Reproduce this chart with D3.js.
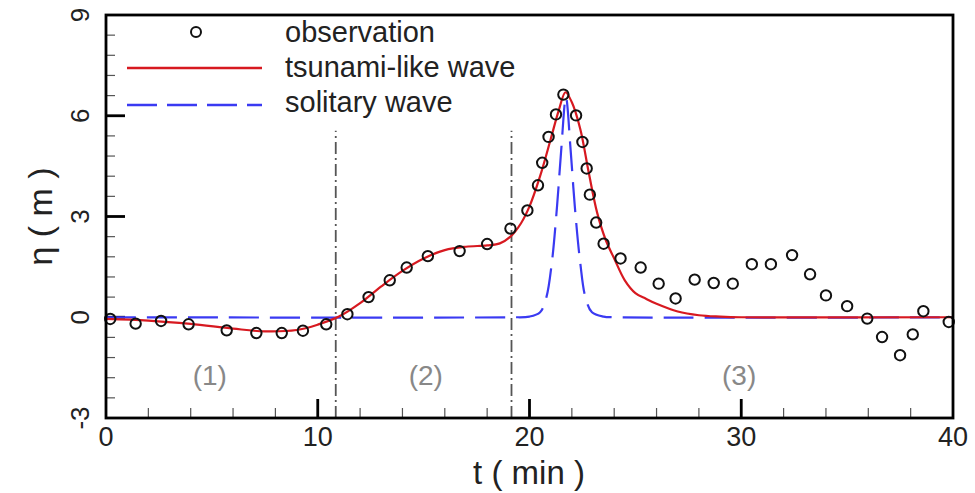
<!DOCTYPE html>
<html>
<head>
<meta charset="utf-8">
<script src="https://cdn.jsdelivr.net/npm/d3@7"></script>
<style>
  body { margin: 0; background: #fff; }
  text { font-family: "Liberation Sans", Arial, sans-serif; }
</style>
</head>
<body>
<div id="chart"></div>
<script>
// observation points (t in min, eta in m)
const obsT = [0.2, 1.4, 2.6, 3.9, 5.7, 7.1, 8.3, 9.3, 10.4, 11.4, 12.4, 13.4, 14.2, 15.2, 16.7, 18.0,
  19.1, 19.9, 20.4, 20.6, 20.9, 21.25, 21.6, 22.2, 22.5, 22.7, 22.85, 23.15, 23.5,
  24.3, 25.25, 26.1, 26.9, 27.8, 28.7, 29.6, 30.5, 31.4, 32.4, 33.25, 34.0, 35.0, 35.95, 36.65, 37.5, 38.1, 38.6, 39.8];
const obsEta = [-0.05, -0.19, -0.11, -0.21, -0.39, -0.47, -0.47, -0.40, -0.21, 0.09, 0.60, 1.10, 1.48, 1.82, 1.97, 2.18,
  2.64, 3.18, 3.93, 4.60, 5.37, 6.04, 6.63, 6.01, 5.22, 4.43, 3.65, 2.82, 2.19,
  1.75, 1.48, 1.00, 0.56, 1.12, 1.02, 1.00, 1.58, 1.58, 1.85, 1.28, 0.65, 0.33, -0.04, -0.59, -1.13, -0.51, 0.18, -0.14];

// tsunami-like wave (red)
const tsuT = [0, 2, 4, 6, 7.5, 9, 10, 11, 12, 13, 14, 15, 16, 17, 18, 18.6, 19.1, 19.6, 20, 20.5, 21, 21.4, 21.7,
  22, 22.4, 22.8, 23.2, 23.6, 24, 24.5, 25, 25.5, 26, 27, 28, 29, 30, 40];
const tsuEta = [-0.05, -0.1, -0.2, -0.34, -0.42, -0.38, -0.22, 0.02, 0.42, 0.92, 1.38, 1.75, 2.0, 2.1, 2.14, 2.2, 2.4, 2.8, 3.3, 4.2, 5.3, 6.2, 6.7,
  6.4, 5.6, 4.3, 3.1, 2.3, 1.75, 1.1, 0.72, 0.55, 0.4, 0.17, 0.06, 0.02, 0, 0];

// solitary wave (blue dashed)
const solT = [0, 19, 20, 20.5, 20.8, 21.05, 21.3, 21.5, 21.72, 21.94, 22.14, 22.4, 22.64, 22.95, 23.5, 24, 40];
const solEta = [0, 0, 0.02, 0.15, 0.6, 1.6, 3.3, 5.0, 6.55, 5.0, 3.3, 1.6, 0.6, 0.15, 0.02, 0, 0];

const xTicks = [0, 10, 20, 30, 40];
const yTicks = [-3, 0, 3, 6, 9];
const dividers = [10.85, 19.15];
const regionLabels = ["(1)", "(2)", "(3)"];
const regionT = [4.9, 15.1, 29.9];
const legendLabels = ["observation", "tsunami-like wave", "solitary wave"];

const width = 975, height = 493;
const margin = { left: 106, right: 22, top: 15, bottom: 75 };

const svg = d3.select("#chart").append("svg")
  .attr("width", width)
  .attr("height", height);

const x = d3.scaleLinear().domain([0, 40]).range([margin.left, width - margin.right]);
const y = d3.scaleLinear().domain([-3, 9]).range([height - margin.bottom, margin.top]);

// minor ticks
const xMinor = d3.range(0, 41, 2).filter(v => v % 10 !== 0);
const yMinor = d3.range(-3, 9.01, 0.6).filter(v => Math.abs(v / 3 - Math.round(v / 3)) > 0.01);

const tickG = svg.append("g").attr("stroke", "#000");
tickG.selectAll(".xmin").data(xMinor).enter().append("line")
  .attr("x1", d => x(d)).attr("x2", d => x(d))
  .attr("y1", y(-3)).attr("y2", y(-3) - 10)
  .attr("stroke-width", 1.2).attr("stroke", "#555");
tickG.selectAll(".xmaj").data(xTicks.slice(1, -1)).enter().append("line")
  .attr("x1", d => x(d)).attr("x2", d => x(d))
  .attr("y1", y(-3)).attr("y2", y(-3) - 19)
  .attr("stroke-width", 2.8);
tickG.selectAll(".ymin").data(yMinor).enter().append("line")
  .attr("x1", x(0)).attr("x2", x(0) + 9)
  .attr("y1", d => y(d)).attr("y2", d => y(d))
  .attr("stroke-width", 1.2).attr("stroke", "#555");
tickG.selectAll(".ymaj").data(yTicks.slice(1, -1)).enter().append("line")
  .attr("x1", x(0)).attr("x2", x(0) + 19)
  .attr("y1", d => y(d)).attr("y2", d => y(d))
  .attr("stroke-width", 2.8);

// tick labels
svg.selectAll(".xl").data(xTicks).enter().append("text")
  .attr("x", d => x(d)).attr("y", y(-3) + 28)
  .attr("text-anchor", "middle")
  .attr("font-size", 27).attr("fill", "#222")
  .text(d => d);
svg.selectAll(".yl").data(yTicks).enter().append("text")
  .attr("transform", d => `translate(${x(0) - 17},${y(d)}) rotate(-90)`)
  .attr("text-anchor", "middle")
  .attr("font-size", 26).attr("fill", "#222")
  .text(d => d);

// axis titles
svg.append("text")
  .attr("x", 529).attr("y", 484)
  .attr("text-anchor", "middle")
  .attr("font-size", 33).attr("fill", "#222")
  .text("t ( min )");
svg.append("text")
  .attr("transform", `translate(52,${y(3)}) rotate(-90)`)
  .attr("text-anchor", "middle")
  .attr("font-size", 34).attr("fill", "#222")
  .text("η ( m )");

// divider lines
svg.selectAll(".div").data(dividers).enter().append("line")
  .attr("x1", d => x(d)).attr("x2", d => x(d))
  .attr("y1", y(-3)).attr("y2", y(5.55))
  .attr("stroke", "#555").attr("stroke-width", 1.8)
  .attr("stroke-dasharray", "12,4,2,4");

// region labels
svg.selectAll(".reg").data(regionLabels).enter().append("text")
  .attr("x", (d, i) => x(regionT[i])).attr("y", 385)
  .attr("text-anchor", "middle")
  .attr("font-size", 28).attr("fill", "#888")
  .text(d => d);

// curves
const line = d3.line().curve(d3.curveCatmullRom.alpha(0.5));
svg.append("path")
  .attr("d", line(solT.map((t, i) => [x(t), y(solEta[i])])))
  .attr("fill", "none").attr("stroke", "#3a3af2").attr("stroke-width", 2.2)
  .attr("stroke-dasharray", "30,11");
svg.append("path")
  .attr("d", line(tsuT.map((t, i) => [x(t), y(tsuEta[i])])))
  .attr("fill", "none").attr("stroke", "#d71920").attr("stroke-width", 2.2);

// observations
svg.selectAll(".obs").data(obsT).enter().append("circle")
  .attr("cx", d => x(d)).attr("cy", (d, i) => y(obsEta[i]))
  .attr("r", 5.2)
  .attr("fill", "none").attr("stroke", "#111").attr("stroke-width", 2);

// frame
svg.append("rect")
  .attr("x", x(0)).attr("y", y(9))
  .attr("width", x(40) - x(0)).attr("height", y(-3) - y(9))
  .attr("fill", "none").attr("stroke", "#000").attr("stroke-width", 2.8);

// legend
const symY = [32, 68, 105];
const txtY = [42, 77, 112];
const lg = svg.append("g");
lg.append("circle").attr("cx", 196).attr("cy", symY[0]).attr("r", 5)
  .attr("fill", "none").attr("stroke", "#111").attr("stroke-width", 2);
lg.append("line").attr("x1", 127).attr("x2", 262).attr("y1", symY[1]).attr("y2", symY[1])
  .attr("stroke", "#d71920").attr("stroke-width", 2.5);
lg.append("line").attr("x1", 127).attr("x2", 262).attr("y1", symY[2]).attr("y2", symY[2])
  .attr("stroke", "#3a3af2").attr("stroke-width", 2.5).attr("stroke-dasharray", "30,10");
lg.selectAll(".lt").data(legendLabels).enter().append("text")
  .attr("x", 285).attr("y", (d, i) => txtY[i])
  .attr("font-size", 29).attr("fill", "#222")
  .text(d => d);
</script>
</body>
</html>
